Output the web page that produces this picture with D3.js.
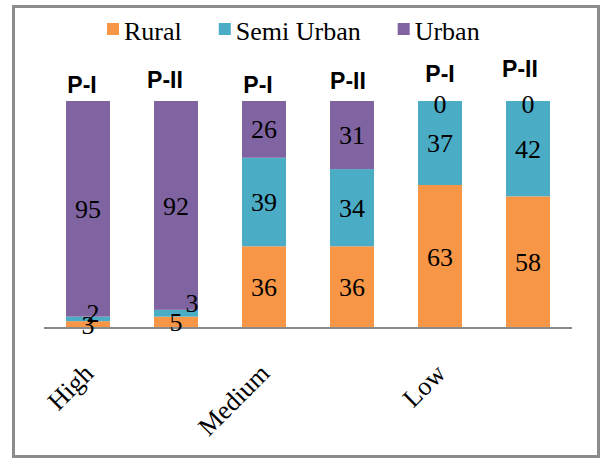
<!DOCTYPE html>
<meta charset="utf-8">
<style>
  body { margin: 0; background: #ffffff; }
  text { font-family: "Liberation Serif", "Times New Roman", serif; fill: #000000; }
  .period { font-family: "Liberation Sans", Arial, sans-serif; font-weight: bold; }
</style>
<body>
<div id="chart"></div>
<script src="https://d3js.org/d3.v7.min.js"></script>
<script>

// data
var bars = ["High P-I", "High P-II", "Medium P-I", "Medium P-II", "Low P-I", "Low P-II"];
var periods = ["P-I", "P-II", "P-I", "P-II", "P-I", "P-II"];
var axisLabels = ["High", "", "Medium", "", "Low", ""];
var seriesNames = ["Rural", "Semi Urban", "Urban"];
var rural = [3, 5, 36, 36, 63, 58];
var semiUrban = [2, 3, 39, 34, 37, 42];
var urban = [95, 92, 26, 31, 0, 0];
var yTicks = [0, 100];

var colors = ["#f79646", "#4bacc6", "#8064a2"];

var svg_dx = 602, svg_dy = 459;

var svg = d3.select("#chart").append("svg")
    .attr("width", svg_dx)
    .attr("height", svg_dy);

// chart border
svg.append("rect")
   .attr("x", 13.5).attr("y", 6.5)
   .attr("width", 585).attr("height", 450)
   .attr("fill", "none")
   .attr("stroke", "#8c8c8c")
   .attr("stroke-width", 3);

var x = d3.scaleBand()
    .domain(d3.range(bars.length))
    .range([44, 572])
    .paddingInner(0.5)
    .paddingOuter(0.25);

var y = d3.scaleLinear().domain(d3.extent(yTicks)).range([328, 101]);

var table = bars.map(function (b, i) {
    return { bar: b, "Rural": rural[i], "Semi Urban": semiUrban[i], "Urban": urban[i] };
});

var stacked = d3.stack().keys(seriesNames)(table);

var layers = svg.append("g").selectAll("g")
    .data(stacked)
    .enter().append("g")
    .attr("fill", (d, i) => colors[i]);

layers.selectAll("rect")
    .data(d => d)
    .enter().append("rect")
    .attr("x", (d, i) => x(i))
    .attr("width", x.bandwidth())
    .attr("y", d => y(Math.min(d[1], 100)))
    .attr("height", d => Math.max(0, y(d[0]) - y(Math.min(d[1], 100))));

// x axis line
svg.append("line")
   .attr("x1", 44).attr("x2", 572)
   .attr("y1", y(0)).attr("y2", y(0))
   .attr("stroke", "#898989")
   .attr("stroke-width", 2);

// data labels (small overlapping ones nudged aside)
var nudge = { "0-1": [5, -6], "1-1": [16, -10], "4-2": [0, 3], "5-2": [0, 3] };

stacked.forEach(function (layer, s) {
    svg.append("g").selectAll("text")
       .data(layer)
       .enter().append("text")
       .attr("text-anchor", "middle")
       .attr("font-size", 26)
       .attr("dy", "0.35em")
       .attr("x", function (d, i) {
           var n = nudge[i + "-" + s] || [0, 0];
           return x(i) + x.bandwidth() / 2 + n[0];
       })
       .attr("y", function (d, i) {
           var n = nudge[i + "-" + s] || [0, 0];
           return y((d[0] + Math.min(d[1], 100)) / 2) + n[1];
       })
       .text(d => d.data[seriesNames[s]]);
});

// period labels above bars
var periodPos = [[-6, 93], [-11, 88], [-6, 93], [-4, 89], [0, 82], [-8, 77]];
svg.append("g").selectAll("text")
   .data(periods)
   .enter().append("text")
   .attr("class", "period")
   .attr("font-size", 23)
   .attr("text-anchor", "middle")
   .attr("x", (d, i) => x(i) + x.bandwidth() / 2 + periodPos[i][0])
   .attr("y", (d, i) => periodPos[i][1])
   .text(d => d);

// rotated category labels
svg.append("g").selectAll("text")
   .data(axisLabels)
   .enter().append("text")
   .attr("font-size", 26)
   .attr("text-anchor", "end")
   .attr("transform", (d, i) =>
        "translate(" + (x(i) + x.bandwidth() / 2 + 7) + ",375) rotate(-45)")
   .text(d => d);

// legend
var legend = svg.append("g");
var lx = 107;
seriesNames.forEach(function (name, i) {
    legend.append("rect")
          .attr("x", lx).attr("y", 23)
          .attr("width", 12).attr("height", 12)
          .attr("fill", colors[i]);
    var t = legend.append("text")
          .attr("x", lx + 17).attr("y", 40)
          .attr("font-size", 26)
          .text(name);
    lx += 17 + t.node().getComputedTextLength() + 37;
});

</script>
</body>
